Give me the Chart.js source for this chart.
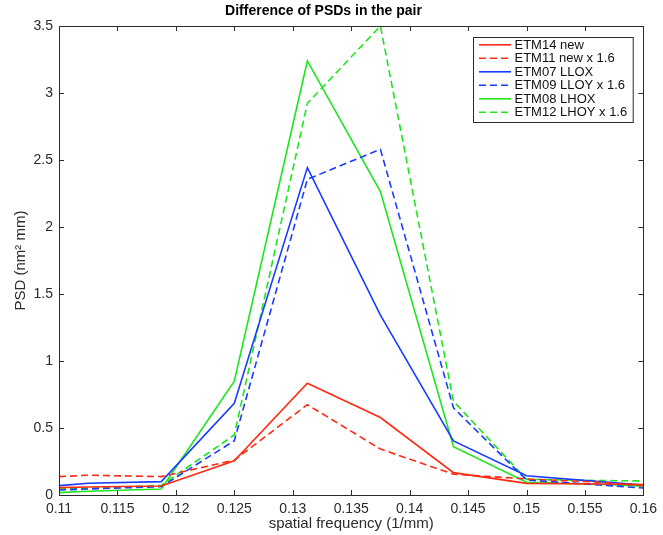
<!DOCTYPE html>
<html lang="en">
<head>
<meta charset="UTF-8">
<title>Difference of PSDs in the pair</title>
<script src="https://cdn.jsdelivr.net/npm/chart.js"></script>
<style>
  body { margin: 0; background: #fff; }
  #wrap { width: 663px; height: 535px; }
</style>
</head>
<body>
<div id="wrap"><canvas id="psdChart"></canvas></div>
<script>
// spatial frequency samples (1/mm)
const freqs = [0.11, 0.1125, 0.11875, 0.125, 0.13125, 0.1375, 0.14375, 0.15, 0.15625, 0.16];

// PSD difference per optic (nm^2 mm)
const etm14New  = [0.055, 0.06, 0.067, 0.255, 0.834, 0.578, 0.167, 0.087, 0.082, 0.078];
const etm11New  = [0.137, 0.148, 0.137, 0.26, 0.674, 0.343, 0.155, 0.12, 0.095, 0.07];
const etm07Llox = [0.07, 0.088, 0.10, 0.684, 2.443, 1.343, 0.403, 0.144, 0.1, 0.075];
const etm09Lloy = [0.037, 0.045, 0.062, 0.405, 2.356, 2.58, 0.65, 0.112, 0.075, 0.052];
const etm08Lhox = [0.018, 0.028, 0.045, 0.85, 3.239, 2.264, 0.36, 0.095, 0.08, 0.066];
const etm12Lhoy = [0.045, 0.05, 0.072, 0.448, 2.923, 3.5, 0.70, 0.117, 0.108, 0.105];

const seriesNames = ['ETM14 new', 'ETM11 new x 1.6', 'ETM07 LLOX', 'ETM09 LLOY x 1.6', 'ETM08 LHOX', 'ETM12 LHOY x 1.6'];

const xTicks = { min: 0.11, max: 0.16, step: 0.005 };
const yTicks = { min: 0, max: 3.5, step: 0.5 };

const RED = '#ff2a12', BLUE = '#1a3cff', GREEN = '#1ee61e';
const DASH = [7, 4];
const FONT = '"Liberation Sans", Arial, Helvetica, sans-serif';
const AXIS = '#2b2b2b';

function series(label, ys, color, dashed) {
  return {
    label: label,
    data: freqs.map((f, i) => ({ x: f, y: ys[i] })),
    borderColor: color,
    backgroundColor: color,
    borderWidth: 1.6,
    borderDash: dashed ? DASH : [],
    pointRadius: 0,
    tension: 0,
    fill: false
  };
}

// box around the plot with inward tick marks on all four sides
const axesFrame = {
  id: 'axesFrame',
  afterDraw(chart) {
    const { ctx, chartArea: a, scales } = chart;
    const len = 5;
    ctx.save();
    ctx.strokeStyle = AXIS;
    ctx.lineWidth = 1;
    ctx.beginPath();
    scales.x.ticks.forEach(t => {
      const px = Math.round(scales.x.getPixelForValue(t.value)) + 0.5;
      ctx.moveTo(px, a.bottom); ctx.lineTo(px, a.bottom - len);
      ctx.moveTo(px, a.top); ctx.lineTo(px, a.top + len);
    });
    scales.y.ticks.forEach(t => {
      const py = Math.round(scales.y.getPixelForValue(t.value)) + 0.5;
      ctx.moveTo(a.left, py); ctx.lineTo(a.left + len, py);
      ctx.moveTo(a.right, py); ctx.lineTo(a.right - len, py);
    });
    ctx.stroke();
    ctx.strokeRect(Math.round(a.left) + 0.5, Math.round(a.top) + 0.5,
                   Math.round(a.right - a.left), Math.round(a.bottom - a.top));
    ctx.restore();
  }
};

// legend drawn inside the plot, top right
const boxLegend = {
  id: 'boxLegend',
  afterDraw(chart) {
    const { ctx, chartArea: a } = chart;
    const sets = chart.data.datasets;
    ctx.save();
    ctx.font = '13px ' + FONT;
    const textW = Math.max(...sets.map(d => ctx.measureText(d.label).width));
    const rowH = 13.5;
    const w = 41 + textW + 6;
    const h = sets.length * rowH + 4;
    const x0 = Math.round(a.right - 11 - w) + 0.5;
    const y0 = Math.round(a.top + 10.5) + 0.5;
    ctx.fillStyle = '#fff';
    ctx.fillRect(x0, y0, w, h);
    ctx.strokeStyle = AXIS;
    ctx.lineWidth = 1;
    ctx.strokeRect(x0, y0, w, h);
    ctx.textBaseline = 'middle';
    sets.forEach((d, i) => {
      const cy = y0 + 7.3 + i * rowH;
      ctx.strokeStyle = d.borderColor;
      ctx.lineWidth = d.borderWidth;
      ctx.setLineDash(d.borderDash);
      ctx.beginPath();
      ctx.moveTo(x0 + 5.5, cy);
      ctx.lineTo(x0 + 37.5, cy);
      ctx.stroke();
      ctx.setLineDash([]);
      ctx.fillStyle = '#111';
      ctx.fillText(d.label, x0 + 41, cy + 0.5);
    });
    ctx.restore();
  }
};

new Chart(document.getElementById('psdChart'), {
  type: 'line',
  data: {
    datasets: [
      series(seriesNames[0], etm14New, RED, false),
      series(seriesNames[1], etm11New, RED, true),
      series(seriesNames[2], etm07Llox, BLUE, false),
      series(seriesNames[3], etm09Lloy, BLUE, true),
      series(seriesNames[4], etm08Lhox, GREEN, false),
      series(seriesNames[5], etm12Lhoy, GREEN, true)
    ]
  },
  options: {
    responsive: true,
    maintainAspectRatio: false,
    animation: false,
    layout: { padding: { left: 0, right: 16, top: 0, bottom: 0 } },
    plugins: {
      legend: { display: false },
      tooltip: { enabled: false },
      title: {
        display: true,
        text: 'Difference of PSDs in the pair',
        color: '#000',
        font: { family: FONT, size: 14, weight: 'bold', lineHeight: 1.2 },
        padding: { top: 3, bottom: 6.2 }
      }
    },
    scales: {
      x: {
        type: 'linear',
        min: xTicks.min,
        max: xTicks.max,
        grid: { display: false, drawTicks: false },
        border: { display: false },
        afterFit(scale) { scale.height = 40; },
        ticks: {
          stepSize: xTicks.step,
          padding: 6,
          color: AXIS,
          font: { family: FONT, size: 14 },
          maxRotation: 0,
          callback: v => String(parseFloat(v.toFixed(3)))
        },
        title: {
          display: true,
          text: 'spatial frequency (1/mm)',
          color: AXIS,
          font: { family: FONT, size: 15, lineHeight: 1.2 },
          padding: { top: 2, bottom: 2 }
        }
      },
      y: {
        min: yTicks.min,
        max: yTicks.max,
        grid: { display: false, drawTicks: false },
        border: { display: false },
        afterFit(scale) { scale.width = 59; },
        ticks: {
          stepSize: yTicks.step,
          padding: 6,
          color: AXIS,
          font: { family: FONT, size: 14 },
          callback: v => String(parseFloat(v.toFixed(2)))
        },
        title: {
          display: true,
          text: 'PSD (nm² mm)',
          color: AXIS,
          font: { family: FONT, size: 15, lineHeight: 1.2 },
          padding: { top: 12, bottom: 12 }
        }
      }
    }
  },
  plugins: [axesFrame, boxLegend]
});
</script>
</body>
</html>
